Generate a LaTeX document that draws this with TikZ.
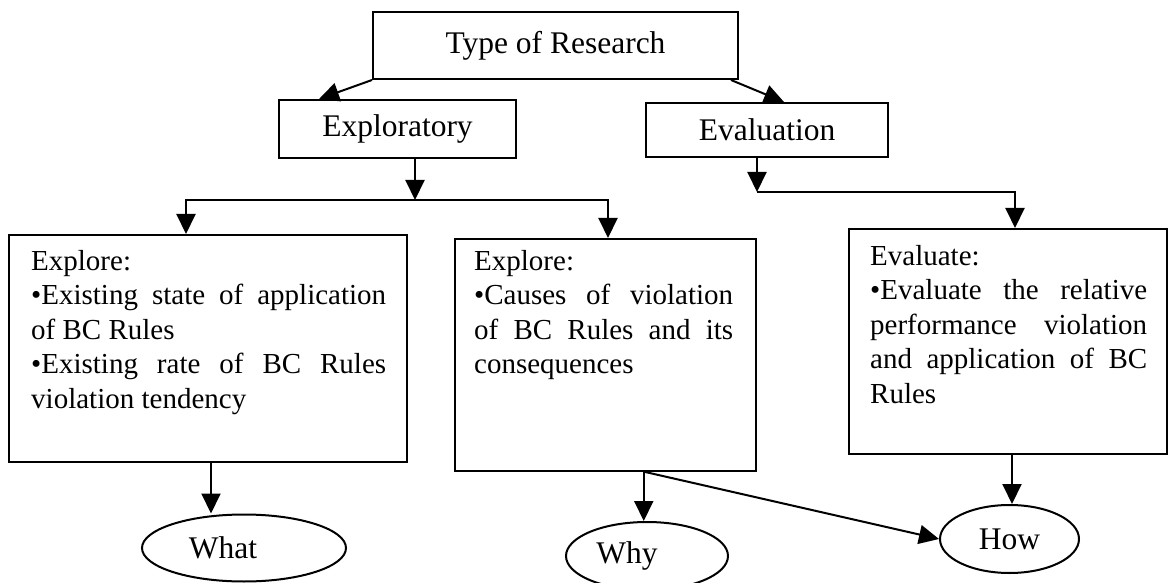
\documentclass[tikz,border=0pt]{standalone}
\usepackage{fontspec}
\setmainfont{Liberation Serif}
\usetikzlibrary{arrows.meta,shapes.geometric}
\newcommand\boxfont{\fontsize{29pt}{34.5pt}\selectfont}
\newcommand\headfont{\fontsize{31.5pt}{36pt}\selectfont}
\begin{document}
\begin{tikzpicture}[x=1pt,y=-1pt,
  box/.style={draw, line width=2pt, inner sep=0pt, font=\headfont},
  bigbox/.style={draw, line width=2pt, inner sep=0pt, anchor=north west},
  boxtext/.style={anchor=north west, inner sep=0pt, align=justify, font=\boxfont},
  oval/.style={draw, ellipse, line width=2pt, inner sep=0pt, font=\headfont},
  arr/.style={line width=2pt, -{Triangle[length=20pt,width=19pt]}},
  link/.style={line width=2pt}]
\useasboundingbox (0,0) rectangle (1171,583);

\node[box, minimum width=365pt, minimum height=67pt] (type) at (555.5,45.5) {Type of Research};
\node[box, minimum width=237pt, minimum height=58pt] (expl) at (397.5,129) {Exploratory};
\node[box, minimum width=242pt, minimum height=54pt] (eval) at (767,130) {Evaluation};

\node[bigbox, minimum width=398pt, minimum height=227pt] (L) at (8,234) {};
\node[bigbox, minimum width=301.5pt, minimum height=232pt] (M) at (453.5,238) {};
\node[bigbox, minimum width=318pt, minimum height=225pt] (R) at (848,228) {};

\node[boxtext, text width=355pt] (Lt) at (31,250) {Explore:\\ •Existing state of application\linebreak of BC Rules\\ •Existing rate of BC Rules\linebreak violation tendency};
\node[boxtext, text width=259pt] (Mt) at (474,250) {Explore:\\ •Causes of violation\linebreak of BC Rules and its\linebreak consequences};
\node[boxtext, text width=277pt] (Rt) at (870,245) {Evaluate:\\ •Evaluate the relative\linebreak performance violation\linebreak and application of BC\linebreak Rules};

\node[oval, minimum width=204pt, minimum height=67pt] (what) at (244,548) {What\hspace*{42pt}};
\node[oval, minimum width=162pt, minimum height=68pt] (why) at (647,556) {Why\hspace*{40pt}};
\node[oval, minimum width=139pt, minimum height=68pt] (how) at (1009.5,539) {How};

\draw[arr] (type.south west) -- ([xshift=41pt]expl.north west);
\draw[arr] ([xshift=-8pt]type.south east) -- ([xshift=139pt]eval.north west);

\coordinate (j1) at (415,200);
\coordinate (jl) at (186,200);
\coordinate (jr) at (608,200);
\draw[arr] (expl.south -| j1) -- (j1);
\draw[arr] (jr) -- (jl) -- (jl |- L.north);
\draw[arr] (jl) -- (jr) -- (jr |- M.north);

\coordinate (e1) at (757,192);
\coordinate (e2) at (1015,192);
\draw[arr] (eval.south -| e1) -- (e1);
\draw[arr] (e1) -- (e2) -- (e2 |- R.north);

\draw[arr] ([xshift=3pt]L.south) -- ([xshift=3pt]L.south |- what.north);
\draw[arr] ([xshift=38.5pt]M.south) -- ([xshift=38.5pt]M.south |- why.north);
\draw[arr] ([xshift=40pt]M.south) -- (how.west);
\draw[arr] ([xshift=4pt]R.south) -- ([xshift=4pt]R.south |- how.north);
\end{tikzpicture}
\end{document}
